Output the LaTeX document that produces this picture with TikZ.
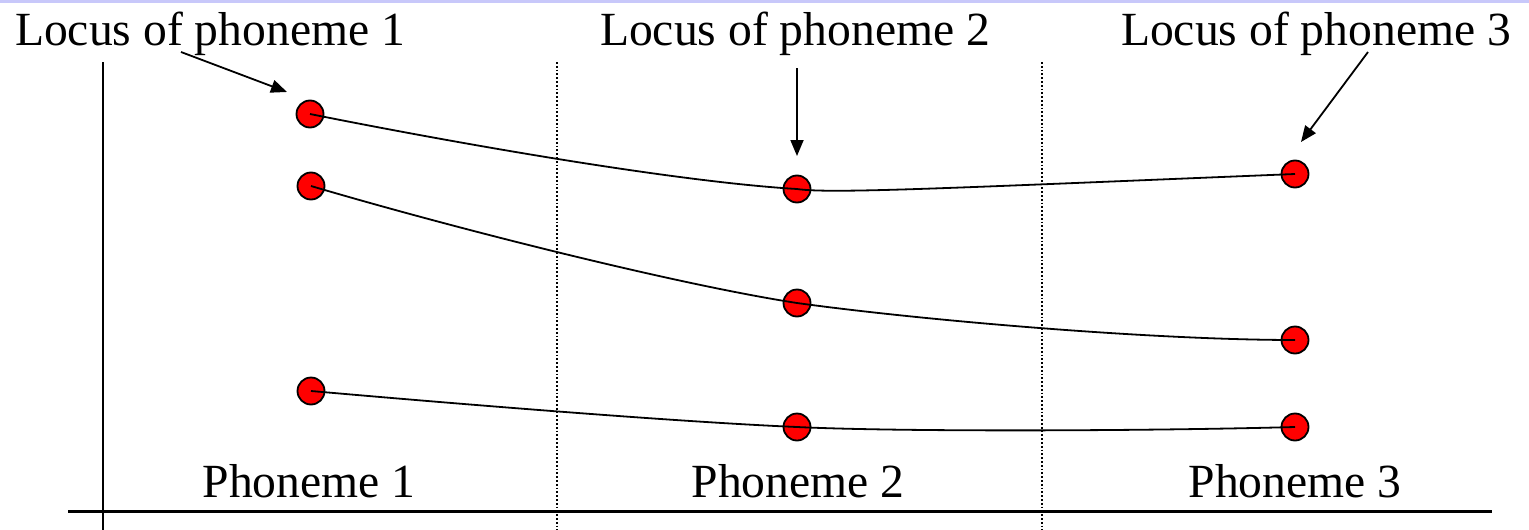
\documentclass[tikz,border=0pt]{standalone}
\usepackage{fontspec}
\setmainfont{Liberation Serif}
\usetikzlibrary{arrows.meta}
\definecolor{topline}{RGB}{200,200,250}
\begin{document}
\begin{tikzpicture}[x=1pt,y=-1pt,
  dot/.style={circle,fill=red,draw=black,line width=1.8pt,minimum size=27pt,inner sep=0pt},
  lbl/.style={anchor=base,inner sep=0pt,font=\fontsize{47.6}{57}\selectfont},
  curve/.style={line width=1.8pt},
  ptr/.style={line width=1.8pt,-{Triangle[length=16pt,width=13pt]}},
  axis/.style={line width=2pt},
  sep/.style={dotted,line width=1.8pt}]
\useasboundingbox (0,0) rectangle (1529,530);
\fill[topline] (0,0) rectangle (1529,2.5);
% axes and separators
\draw[axis] (103,62) -- (103,530);
\draw[axis,line width=3pt] (68,511) -- (1492,511);
\draw[sep] (557,62) -- (557,530);
\draw[sep] (1042,62) -- (1042,530);
% labels
\node[lbl] (L1) at (210,45) {Locus of phoneme 1};
\node[lbl] (L2) at (795,45) {Locus of phoneme 2};
\node[lbl] (L3) at (1316,45) {Locus of phoneme 3};
\node[lbl] (P1) at (309,497) {Phoneme 1};
\node[lbl] (P2) at (798,497) {Phoneme 2};
\node[lbl] (P3) at (1295,497) {Phoneme 3};
% dots
\node[dot] (a1) at (310,114) {};
\node[dot] (a2) at (797,189) {};
\node[dot] (a3) at (1295,174) {};
\node[dot] (b1) at (311,186) {};
\node[dot] (b2) at (797,303) {};
\node[dot] (b3) at (1295,340) {};
\node[dot] (c1) at (311,391) {};
\node[dot] (c2) at (797,427) {};
\node[dot] (c3) at (1295,427) {};
% curves
\draw[curve] (a1.center) .. controls (470,146) and (680,182) .. (a2.center)
  .. controls (830,194) and (950,188) .. (a3.center);
\draw[curve] (b1.center) .. controls (460,230) and (680,285) .. (b2.center)
  .. controls (920,320) and (1150,340) .. (b3.center);
\draw[curve] (c1.center) .. controls (470,405) and (680,422) .. (c2.center)
  .. controls (900,432) and (1150,431) .. (c3.center);
% pointers
\coordinate (s1) at (181,52);
\coordinate (e1) at (287,92);
\coordinate (s2) at (797,68);
\coordinate (e2) at (797,156);
\coordinate (s3) at (1368,52);
\coordinate (e3) at (1301,142);
\draw[ptr] (s1) -- (e1);
\draw[ptr] (s2) -- (e2);
\draw[ptr] (s3) -- (e3);
\end{tikzpicture}
\end{document}
